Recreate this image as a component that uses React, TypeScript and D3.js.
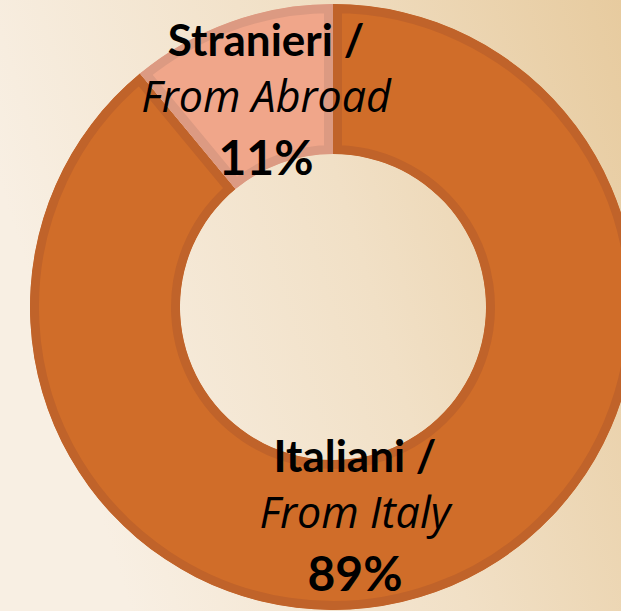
import React from "react";
import * as d3 from "d3";

const categories = ["Italiani", "Stranieri"];
const subLabels = ["From Italy", "From Abroad"];
const values = [89, 11];
const percentLabels = ["89%", "11%"];

const W = 621;
const H = 611;
const cx = 333;
const cy = 307;
const outerR = 303;
const innerR = 153;
const fills = ["#d06d29", "#f0a68a"];
const borders = ["#c0632a", "#dc9a82"];
const labelPos = [
  { x: 355, y: 472 },
  { x: 266, y: 56 },
];

export default function App() {
  const pie = d3.pie<number>().sort(null).value((d) => d);
  const arcs = pie(values);
  const arc = d3.arc<d3.PieArcDatum<number>>().innerRadius(innerR).outerRadius(outerR);
  const font = "Lato, 'Open Sans', sans-serif";
  const italicFont = "'Open Sans', Lato, sans-serif";
  return (
    <div style={{ position: "fixed", left: 0, top: 0, width: W, height: H }}>
      <svg width={W} height={H} style={{ display: "block" }}>
        <defs>
          <linearGradient id="bg" x1="0" y1="0.3" x2="1" y2="0">
            <stop offset="0" stopColor="#f8efe3" />
            <stop offset="0.5" stopColor="#f1e0c6" />
            <stop offset="1" stopColor="#e7cb9f" />
          </linearGradient>
          {arcs.map((a, i) => (
            <clipPath id={`clip${i}`} key={i}>
              <path d={arc(a) || ""} transform={`translate(${cx},${cy})`} />
            </clipPath>
          ))}
        </defs>
        <rect x={0} y={0} width={W} height={H} fill="url(#bg)" />
        {arcs.map((a, i) => (
          <g key={i} clipPath={`url(#clip${i})`}>
            <path
              d={arc(a) || ""}
              transform={`translate(${cx},${cy})`}
              fill={fills[i]}
              stroke={borders[i]}
              strokeWidth={18}
            />
          </g>
        ))}
        {categories.map((c, i) => (
          <text key={c} x={labelPos[i].x} y={labelPos[i].y} textAnchor="middle" fill="#000">
            <tspan x={labelPos[i].x} fontFamily={font} fontWeight="bold" fontSize={44}>{c} /</tspan>
            <tspan x={labelPos[i].x} dy={56} fontFamily={italicFont} fontStyle="italic" fontSize={43}>{subLabels[i]}</tspan>
            <tspan x={labelPos[i].x} dy={63} fontFamily={font} fontWeight="bold" fontSize={48}>{percentLabels[i]}</tspan>
          </text>
        ))}
      </svg>
    </div>
  );
}
